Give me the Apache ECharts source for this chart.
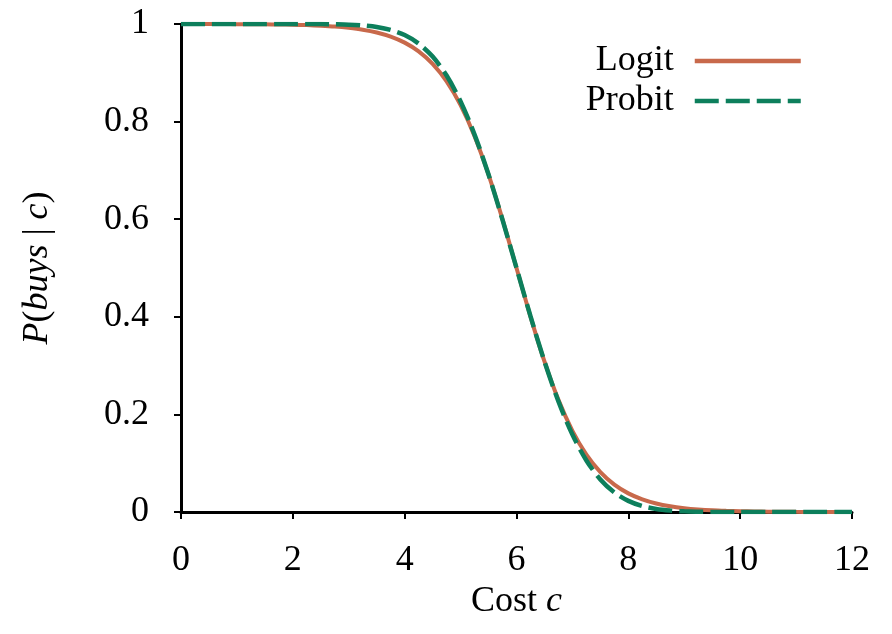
<!DOCTYPE html>
<html>
<head>
<meta charset="utf-8">
<script src="https://cdn.jsdelivr.net/npm/echarts@6/dist/echarts.min.js"></script>
<style>
  html, body { margin: 0; padding: 0; background: #fff; }
  #chart { width: 892px; height: 634px; }
</style>
</head>
<body>
<div id="chart"></div>
<script>
// cost values (x), read every 0.25
const costs = [
  0, 0.25, 0.5, 0.75, 1, 1.25, 1.5, 1.75, 2, 2.25, 2.5, 2.75,
  3, 3.25, 3.5, 3.75, 4, 4.25, 4.5, 4.75, 5, 5.25, 5.5, 5.75,
  6, 6.25, 6.5, 6.75, 7, 7.25, 7.5, 7.75, 8, 8.25, 8.5, 8.75,
  9, 9.25, 9.5, 9.75, 10, 10.25, 10.5, 10.75, 11, 11.25, 11.5, 11.75, 12
]
const logitVals = [
  0.9999, 0.9999, 0.9999, 0.9998, 0.9997, 0.9995, 0.9993, 0.9990, 0.9984, 0.9977, 0.9965, 0.9948,
  0.9921, 0.9883, 0.9826, 0.9741, 0.9618, 0.9439, 0.9183, 0.8825, 0.8338, 0.7702, 0.6914, 0.5995,
  0.5000, 0.4005, 0.3086, 0.2298, 0.1662, 0.1175, 0.0817, 0.0561, 0.0382, 0.0259, 0.0174, 0.0117,
  0.0079, 0.0053, 0.0035, 0.0024, 0.0016, 0.0011, 0.0007, 0.0005, 0.0003, 0.0002, 0.0001, 0.0001, 0.0001
]
const probitVals = [
  1, 1, 1, 1, 1, 1, 1, 1, 1, 1, 0.9998, 0.9994,
  0.9987, 0.9970, 0.9938, 0.9878, 0.9773, 0.9599, 0.9332, 0.8944, 0.8413, 0.7734, 0.6915, 0.5987,
  0.5000, 0.4013, 0.3085, 0.2266, 0.1587, 0.1056, 0.0668, 0.0401, 0.0228, 0.0122, 0.0062, 0.0030,
  0.0013, 0.0006, 0.0002, 0.0001, 0, 0, 0, 0, 0, 0, 0, 0, 0
]
const seriesNames = ['Logit', 'Probit']

const serif = '"Liberation Serif", "DejaVu Serif", serif'
const logitColor = '#c8694b'
const probitColor = '#0d7f5c'

const toPairs = (vals) => costs.map((c, i) => [c, vals[i]])

const axisBase = {
  axisLine: { show: true, onZero: false, lineStyle: { color: '#000', width: 3 } },
  axisTick: { show: true, length: 7, lineStyle: { color: '#000', width: 2 } },
  splitLine: { show: false },
  axisLabel: { color: '#000', fontFamily: serif, fontSize: 36 }
}

const nameStyle = {
  color: '#000', fontFamily: serif, fontSize: 36,
  rich: { i: { fontStyle: 'italic', fontFamily: serif, fontSize: 36, color: '#000' } }
}

const option = {
  animation: false,
  backgroundColor: '#fff',
  grid: { left: 181, right: 40, top: 24, bottom: 122 },
  legend: {
    orient: 'vertical',
    align: 'right',
    right: 84,
    top: 38,
    itemWidth: 106,
    itemHeight: 14,
    itemGap: 4,
    itemStyle: { opacity: 0 },
    lineStyle: { width: 4.5 },
    textStyle: { color: '#000', fontFamily: serif, fontSize: 36, padding: [0, 16, 0, 0] },
    data: seriesNames
  },
  xAxis: {
    type: 'value',
    min: 0, max: 12, interval: 2,
    ...axisBase,
    axisLabel: { ...axisBase.axisLabel, margin: 31 },
    name: 'Cost {i|c}',
    nameLocation: 'middle',
    nameGap: 70,
    nameTextStyle: nameStyle
  },
  yAxis: {
    type: 'value',
    min: 0, max: 1, interval: 0.2,
    ...axisBase,
    axisLabel: { ...axisBase.axisLabel, margin: 32 },
    name: '{i|P}({i|buys} | {i|c})',
    nameLocation: 'middle',
    nameGap: 125,
    nameRotate: 90,
    nameTextStyle: nameStyle
  },
  series: [
    {
      name: seriesNames[0],
      type: 'line',
      data: toPairs(logitVals),
      smooth: 0.3,
      symbol: 'none',
      lineStyle: { color: logitColor, width: 4 },
      itemStyle: { color: logitColor }
    },
    {
      name: seriesNames[1],
      type: 'line',
      data: toPairs(probitVals),
      smooth: 0.3,
      symbol: 'none',
      lineStyle: { color: probitColor, width: 4.5, type: [24, 7] },
      itemStyle: { color: probitColor }
    }
  ]
}

const chart = echarts.init(document.getElementById('chart'))
chart.setOption(option)
</script>
</body>
</html>
